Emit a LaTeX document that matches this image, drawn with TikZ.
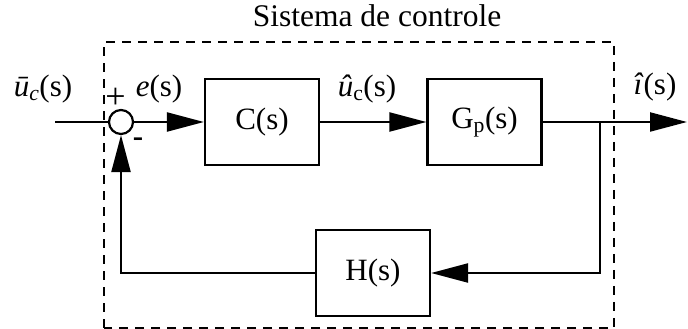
\documentclass[tikz,border=0pt]{standalone}
\usepackage{fontspec}
\setmainfont{Liberation Serif}
\usetikzlibrary{arrows.meta}
\begin{document}
\begin{tikzpicture}[x=1pt,y=1pt,
  blk/.style={draw, line width=2.2pt, minimum width=114pt, minimum height=86pt, inner sep=0pt, font=\fontsize{31}{33}\selectfont},
  sig/.style={line width=2.2pt},
  arr/.style={line width=2.2pt, -{Triangle[length=37pt,width=19pt]}},
  lbl/.style={anchor=base, inner sep=0pt, font=\fontsize{31}{33}\selectfont},
  sgn/.style={anchor=center, inner sep=0pt, font=\fontsize{36}{38}\selectfont},
  sysbox/.style={draw, line width=2.2pt, dash pattern=on 9pt off 7pt}
]
\useasboundingbox (0,0) rectangle (688,329);
% system boundary
\draw[sysbox] (104,1) rectangle (614,287);
\node[lbl, font=\fontsize{31.5}{33}\selectfont] (title) at (377,302) {Sistema de controle};
% blocks
\node[blk] (C) at (262,207) {C(s)};
\node[blk] (G) at (484.5,207) {G\textsubscript{p}(s)};
\node[blk] (H) at (373,56) {H(s)};
\node[draw, circle, line width=2.2pt, minimum size=24pt, inner sep=0pt] (sum) at (121,207) {};
% coordinates
\coordinate (in) at (55,207);
\coordinate (out) at (687,207);
\coordinate (br) at (600,207);
\coordinate (brd) at (600,56);
\coordinate (fbl) at (121,56);
% connectors
\draw[sig] (in) -- (sum.west);
\draw[arr] (sum.east) -- (C.west);
\draw[arr] (C.east) -- (G.west);
\draw[arr] (G.east) -- (out);
\draw[arr] (br) -- (brd) -- (H.east);
\draw[arr] (H.west) -- (fbl) -- (sum.south);
% labels
\node[lbl] (uin) at (43,232) {\textit{ū}\textsubscript{\textit{c}}(s)};
\node[sgn] (plus) at (115.5,231) {+};
\node[lbl] (es) at (159,232) {\textit{e}(s)};
\node[sgn, font=\fontsize{31}{33}\bfseries] (minus) at (138,187) {-};
\node[lbl] (uc) at (367,232) {\textit{û}\textsubscript{c}(s)};
\node[lbl] (is) at (655,234) {\textit{î}(s)};
\end{tikzpicture}
\end{document}
